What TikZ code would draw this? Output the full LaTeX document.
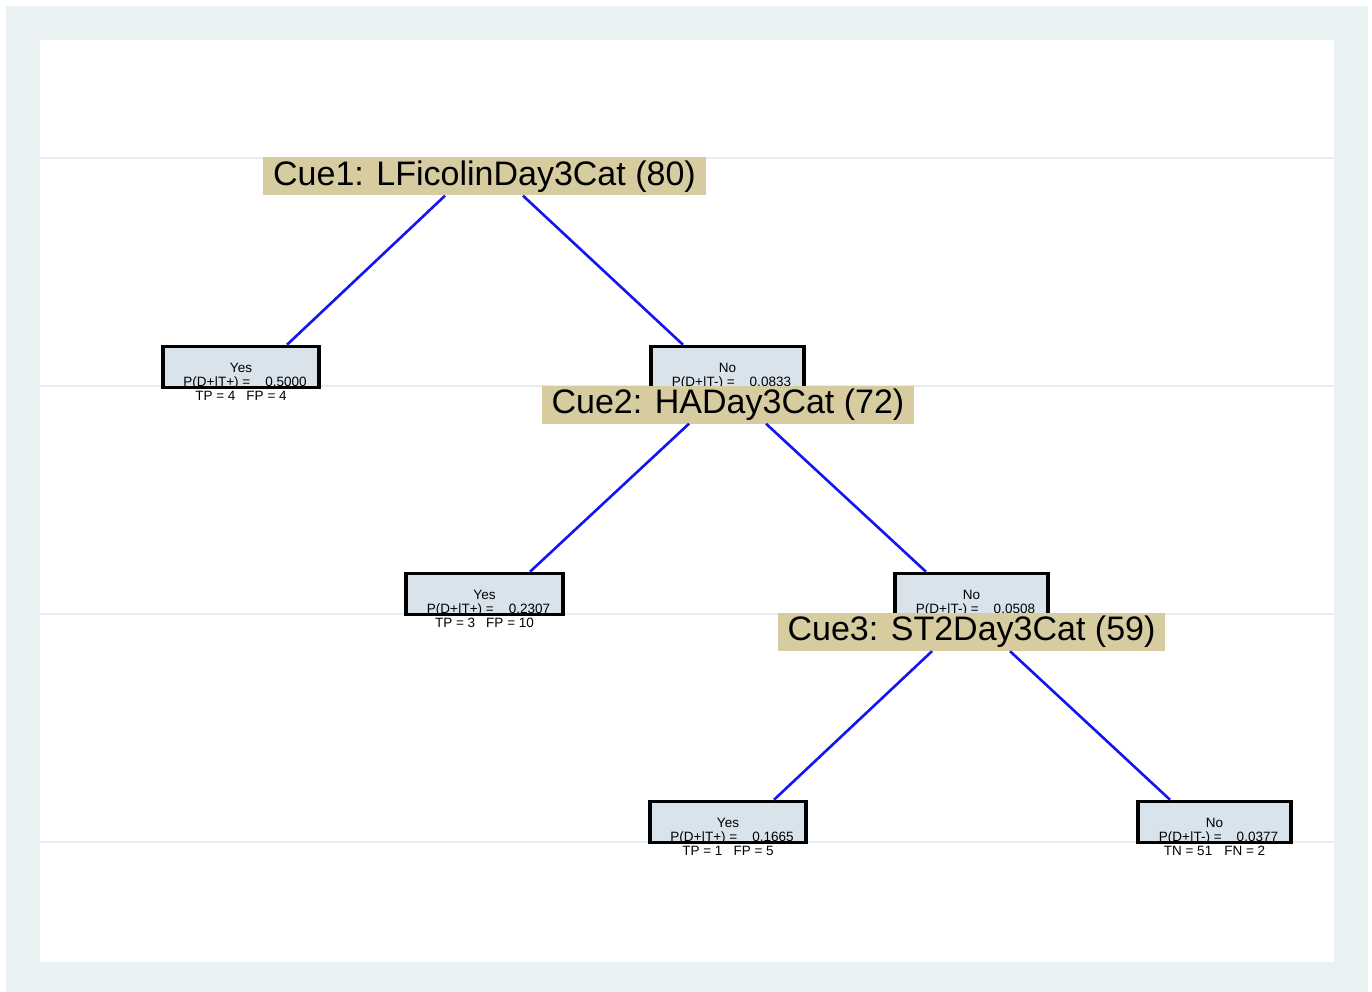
\documentclass[tikz,border=0pt]{standalone}
\usepackage{fontspec}
\setmainfont{Liberation Sans}
\definecolor{outerbg}{RGB}{234,241,243}
\definecolor{gridc}{RGB}{230,238,241}
\definecolor{tan}{RGB}{214,204,160}
\definecolor{leaffill}{RGB}{217,227,235}
\definecolor{branch}{RGB}{20,20,240}
\tikzset{
  cuelabel/.style={fill=tan, inner xsep=0pt, inner ysep=0pt, minimum height=38pt,
    font=\fontsize{34}{40}\selectfont, text=black, anchor=center},
  leafbox/.style={draw=black, line width=3.5pt, fill=leaffill, minimum width=153pt,
    minimum height=41pt, inner sep=0pt},
  leaftext/.style={inner sep=0pt, align=center, font=\fontsize{13.5}{14}\selectfont, text=black},
  branchline/.style={draw=branch, line width=2.6pt},
  gridline/.style={draw=gridc, line width=2pt}
}
\begin{document}
\begin{tikzpicture}[x=1pt,y=-1pt]
\useasboundingbox (0,0) rectangle (1372,992);
\fill[white] (0,0) rectangle (1372,992);
\fill[outerbg] (6,6) rectangle (1368,992);
\fill[white] (40,40) rectangle (1334,962);
\foreach \yy in {158,386,614,842} {\draw[gridline] (40,\yy) -- (1334,\yy);}
% leaf boxes
\node[leafbox, minimum width=156pt] (y1) at (241,367) {};
\node[leafbox] (n1) at (727.5,367) {};
\node[leafbox, minimum width=157pt] (y2) at (484.5,594) {};
\node[leafbox] (n2) at (971.5,594) {};
\node[leafbox, minimum width=156pt] (y3) at (728,822) {};
\node[leafbox] (n3) at (1214.5,822) {};
% leaf texts
\node[leaftext] (y1t) at (241,381.5) {Yes\\\hspace*{8pt}P(D+|T+) =\hspace{15pt}0.5000\\TP = 4\hspace{11pt}FP = 4};
\node[leaftext] (n1t) at (727.5,381.5) {No\\\hspace*{8pt}P(D+|T-) =\hspace{15pt}0.0833\\ };
\node[leaftext] (y2t) at (484.5,608.5) {Yes\\\hspace*{8pt}P(D+|T+) =\hspace{15pt}0.2307\\TP = 3\hspace{11pt}FP = 10};
\node[leaftext] (n2t) at (971.5,608.5) {No\\\hspace*{8pt}P(D+|T-) =\hspace{15pt}0.0508\\ };
\node[leaftext] (y3t) at (728,836.5) {Yes\\\hspace*{8pt}P(D+|T+) =\hspace{15pt}0.1665\\TP = 1\hspace{11pt}FP = 5};
\node[leaftext] (n3t) at (1214.5,836.5) {No\\\hspace*{8pt}P(D+|T-) =\hspace{15pt}0.0377\\TN = 51\hspace{12pt}FN = 2};
% cue labels
\node[cuelabel, minimum width=443pt] (c1) at (484.5,176.5) {Cue1: LFicolinDay3Cat (80)};
\node[cuelabel, minimum width=372pt] (c2) at (728,404.5) {Cue2: HADay3Cat (72)};
\node[cuelabel, minimum width=387pt] (c3) at (971.5,632) {Cue3: ST2Day3Cat (59)};
% branches
\draw[branchline] ([xshift=-39.5pt]c1.south) -- ([xshift=46pt]y1.north);
\draw[branchline] ([xshift=38.5pt]c1.south) -- ([xshift=-44.5pt]n1.north);
\draw[branchline] ([xshift=-39pt]c2.south) -- ([xshift=45.5pt]y2.north);
\draw[branchline] ([xshift=38pt]c2.south) -- ([xshift=-45.5pt]n2.north);
\draw[branchline] ([xshift=-39.5pt]c3.south) -- ([xshift=46pt]y3.north);
\draw[branchline] ([xshift=38.5pt]c3.south) -- ([xshift=-44.5pt]n3.north);
\end{tikzpicture}
\end{document}
